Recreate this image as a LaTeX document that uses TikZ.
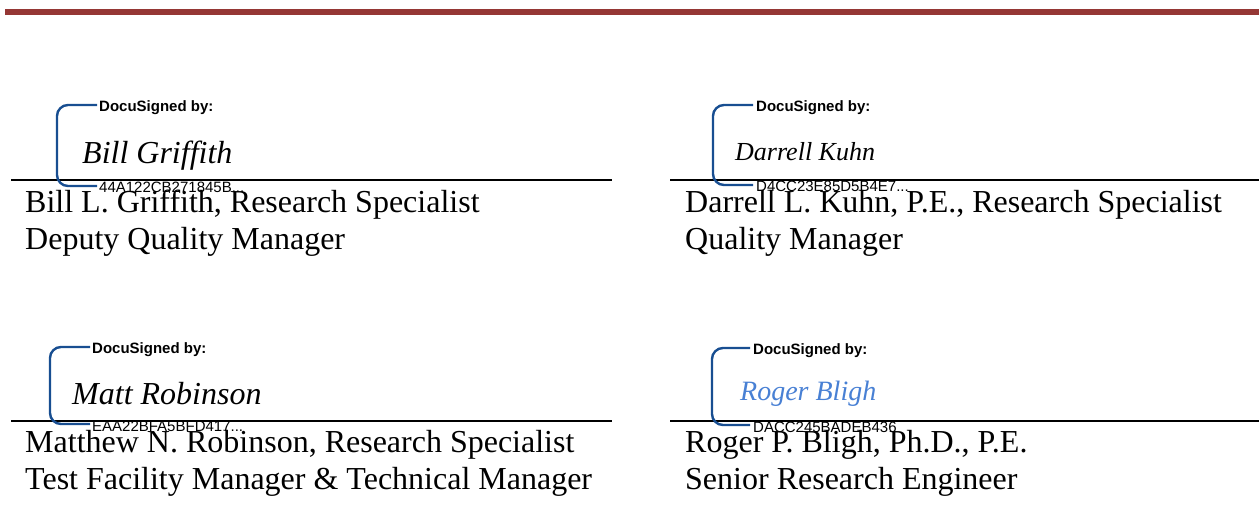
\documentclass[tikz,border=0pt]{standalone}
\usepackage{fontspec}
\setmainfont{Liberation Serif}
\newfontfamily\docufont{Liberation Sans}
\usepackage{xcolor}
\usetikzlibrary{calc,positioning}

\definecolor{barred}{RGB}{149,55,53}
\definecolor{docublue}{RGB}{24,78,145}
\definecolor{inkblue}{RGB}{72,128,212}

\begin{document}
\begin{tikzpicture}[x=1pt,y=-1pt,
  nametext/.style={anchor=base west,inner sep=0pt,font=\fontsize{32}{37}\selectfont},
  docubracket/.style={draw=docublue,line width=2.4pt,rounded corners=11pt},
  docuhead/.style={anchor=base west,inner sep=0pt,font=\docufont\bfseries\fontsize{15}{18}\selectfont},
  docuid/.style={anchor=base west,inner sep=0pt,font=\docufont\fontsize{15}{18}\selectfont},
  signature/.style={anchor=base west,inner sep=0pt,font=\itshape\fontsize{32}{36}\selectfont}]

% Page size
\useasboundingbox (0,0) rectangle (1259,528);

% Define positions
\def\leftx{25}
\def\rightx{685}
\def\toprule{180}
\def\botrule{421}
\def\linegap{37}

% Draw the header bar
\fill[barred] (5,9) rectangle (1259,15);

% Draw the signature rules
\draw[line width=1.8pt] (11,\toprule) -- (612,\toprule);
\draw[line width=2.6pt] (670,\toprule) -- (1259,\toprule);
\draw[line width=1.8pt] (11,\botrule) -- (612,\botrule);
\draw[line width=2.6pt] (670,\botrule) -- (1259,\botrule);

% Top left signature block
\draw[docubracket] (97,105) -- (57,105) -- (57,186) -- (97,186);
\node[docuhead] (griffithhead) at (99,111) {DocuSigned by:};
\node[signature] (griffithsig) at (82,163) {Bill Griffith};
\node[docuid] (griffithid) at (99,192) {44A122CB271845B...};
\node[nametext] (griffithname) at (\leftx,212) {Bill L. Griffith, Research Specialist};
\node[nametext] (griffithtitle) at (\leftx,212+\linegap) {Deputy Quality Manager};

% Top right signature block
\draw[docubracket] (753,105) -- (713,105) -- (713,185) -- (753,185);
\node[docuhead] (kuhnhead) at (756,111) {DocuSigned by:};
\node[signature,font=\itshape\fontsize{26}{30}\selectfont] (kuhnsig) at (735,160) {Darrell Kuhn};
\node[docuid] (kuhnid) at (756,191) {D4CC23E85D5B4E7...};
\node[nametext] (kuhnname) at (\rightx,212) {Darrell L. Kuhn, P.E., Research Specialist};
\node[nametext] (kuhntitle) at (\rightx,212+\linegap) {Quality Manager};

% Bottom left signature block
\draw[docubracket] (90,347) -- (50,347) -- (50,424) -- (90,424);
\node[docuhead] (robinsonhead) at (92,353) {DocuSigned by:};
\node[signature] (robinsonsig) at (72,404) {Matt Robinson};
\node[docuid] (robinsonid) at (92,431) {EAA22BFA5BFD417...};
\node[nametext] (robinsonname) at (\leftx,452) {Matthew N. Robinson, Research Specialist};
\node[nametext] (robinsontitle) at (\leftx,452+\linegap) {Test Facility Manager \& Technical Manager};

% Bottom right signature block
\draw[docubracket] (750,348) -- (712,348) -- (712,425) -- (750,425);
\node[docuhead] (blighhead) at (753,354) {DocuSigned by:};
\node[signature,text=inkblue,font=\itshape\fontsize{28}{32}\selectfont] (blighsig) at (740,400) {Roger Bligh};
\node[docuid] (blighid) at (753,432) {DACC245BADEB436};
\node[nametext] (blighname) at (\rightx,452) {Roger P. Bligh, Ph.D., P.E.};
\node[nametext] (blightitle) at (\rightx,452+\linegap) {Senior Research Engineer};

\end{tikzpicture}
\end{document}
